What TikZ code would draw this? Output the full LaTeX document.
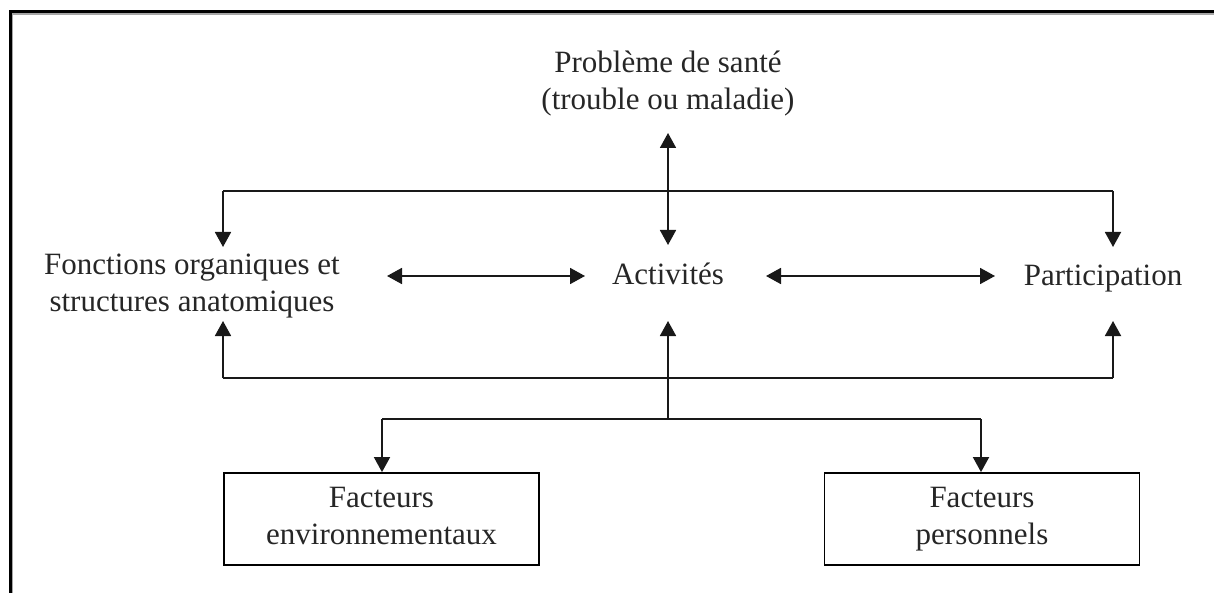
\documentclass[tikz,border=0pt]{standalone}
\usepackage{fontspec}
\setmainfont{Liberation Serif}
\usetikzlibrary{arrows.meta}
\begin{document}
\begin{tikzpicture}[x=1pt,y=-1pt,
  lbl/.style={align=center,font=\fontsize{31}{37}\selectfont,text=black!85,inner sep=0pt,anchor=base},
  fbox/.style={draw,line width=1.8pt,minimum width=315pt,minimum height=92pt,inner sep=0pt,align=center,font=\fontsize{31}{37}\selectfont,text=black!85},
  conn/.style={line width=1.8pt,draw=black!90},
  tip/.style={-{Triangle[length=15pt,width=16pt]}},
  dtip/.style={{Triangle[length=15pt,width=16pt]}-{Triangle[length=15pt,width=16pt]}}]
\useasboundingbox (0,0) rectangle (1214,593);
% frame
\draw[line width=1.6pt,black!35] (12.5,593) -- (12.5,14) -- (1214,14);
\draw[line width=2.4pt,black] (10.5,593) -- (10.5,11.5) -- (1214,11.5);
% text nodes (base anchor = baseline of the last line)
\node[lbl] (prob) at (668,110) {Problème de santé\\(trouble ou maladie)};
\node[lbl] (fonc) at (192,312) {Fonctions organiques et\\structures anatomiques};
\node[lbl] (act) at (668,285) {Activités};
\node[lbl] (part) at (1103,286) {Participation};
\node[fbox] (env) at (381.5,519) {\strut Facteurs\\\strut environnementaux};
\node[fbox] (pers) at (982,519) {\strut Facteurs\\\strut personnels};
% coordinates
\coordinate (pt) at (668,133);
\coordinate (pb) at (668,245);
\coordinate (tl) at (223,191);
\coordinate (tr) at (1113,191);
\coordinate (ftop) at (223,247);
\coordinate (ptop) at (1113,247);
\coordinate (bl) at (223,378);
\coordinate (br) at (1113,378);
\coordinate (fbot) at (223,321);
\coordinate (pbot) at (1113,321);
\coordinate (abot) at (668,321);
\coordinate (j) at (668,419);
\coordinate (jl) at (382,419);
\coordinate (jr) at (981,419);
\coordinate (fa1) at (387,276);
\coordinate (fa2) at (585,276);
\coordinate (ap1) at (766,276);
\coordinate (ap2) at (995,276);
% connectors
\draw[conn,dtip] (pt) -- (pb);
\draw[conn] (tl) -- (tr);
\draw[conn,tip] (tl) -- (ftop);
\draw[conn,tip] (tr) -- (ptop);
\draw[conn] (bl) -- (br);
\draw[conn,tip] (bl) -- (fbot);
\draw[conn,tip] (br) -- (pbot);
\draw[conn,tip] (j) -- (abot);
\draw[conn] (jl) -- (jr);
\draw[conn,tip] (jl) -- (jl |- env.north);
\draw[conn,tip] (jr) -- (jr |- pers.north);
\draw[conn,dtip] (fa1) -- (fa2);
\draw[conn,dtip] (ap1) -- (ap2);
\end{tikzpicture}
\end{document}
